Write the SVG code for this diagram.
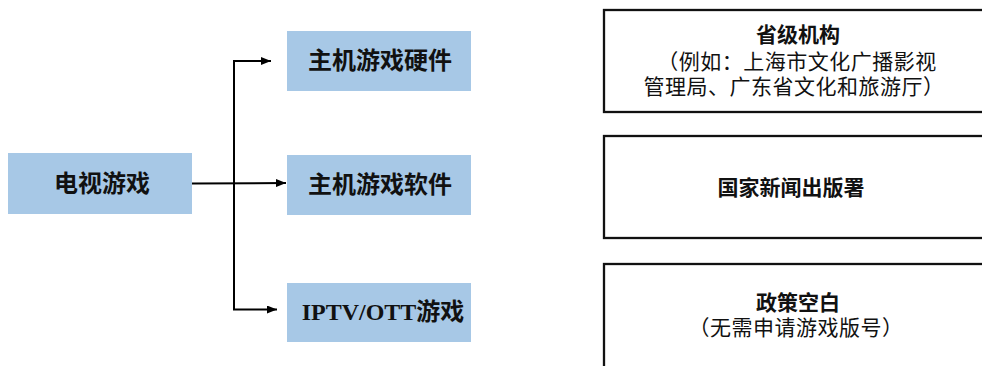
<svg xmlns="http://www.w3.org/2000/svg" width="982" height="366" viewBox="0 0 982 366">
<style>
.blue{fill:#a7c8e6;stroke:none}
.frame{fill:#fff;stroke:#111;stroke-width:2.3}
.bt{font-family:"Liberation Serif","Noto Sans CJK SC",serif;font-weight:bold;font-size:24px;fill:#111;text-anchor:middle}
.rb{font-family:"Liberation Sans","Noto Sans CJK SC",sans-serif;font-weight:bold;font-size:21px;fill:#111;text-anchor:middle}
.rr{font-family:"Liberation Sans","Noto Sans CJK SC",sans-serif;font-size:21px;letter-spacing:0.5px;fill:#111;text-anchor:middle}
.ln{fill:none;stroke:#000;stroke-width:2}
</style>
<defs>
<marker id="ah" markerWidth="10" markerHeight="8" refX="10" refY="4" orient="auto" markerUnits="userSpaceOnUse">
<path d="M0,0 L10,4 L0,8 Z" fill="#000"/>
</marker>
</defs>
<rect width="982" height="366" fill="#fff"/>
<g id="tvgame"><rect class="blue" x="8" y="153" width="184" height="61"/><text class="bt" x="102" y="192">电视游戏</text></g>
<g id="hardware"><rect class="blue" x="287" y="31" width="184" height="60"/><text class="bt" x="380" y="69">主机游戏硬件</text></g>
<g id="software"><rect class="blue" x="287" y="155" width="184" height="60"/><text class="bt" x="380" y="193">主机游戏软件</text></g>
<g id="iptv"><rect class="blue" x="287" y="283" width="184" height="59"/><text class="bt" x="383" y="320">IPTV/OTT游戏</text></g>
<g id="connectors">
<path class="ln" d="M192,183.5 L286,183" marker-end="url(#ah)"/>
<path class="ln" d="M234,183 L234,61 L271,61" marker-end="url(#ah)"/>
<path class="ln" d="M234,183 L234,309.5 L277,309.5" marker-end="url(#ah)"/>
</g>
<g id="provincial"><rect class="frame" x="604" y="10" width="400" height="102"/>
<text class="rb" x="798" y="42">省级机构</text>
<text class="rr" x="797" y="69">（例如：上海市文化广播影视</text>
<text class="rr" x="794" y="94">管理局、广东省文化和旅游厅）</text></g>
<g id="nppa"><rect class="frame" x="604" y="136" width="400" height="102"/>
<text class="rb" x="791" y="195">国家新闻出版署</text></g>
<g id="gap"><rect class="frame" x="604" y="264" width="400" height="120"/>
<text class="rb" x="798" y="310">政策空白</text>
<text class="rr" x="796" y="335">（无需申请游戏版号）</text></g>
</svg>
